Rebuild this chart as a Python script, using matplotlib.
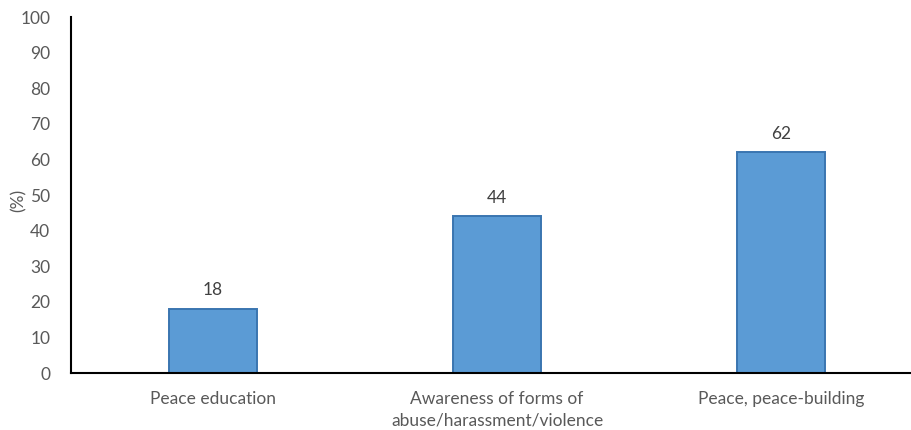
import matplotlib
matplotlib.use("Agg")
import matplotlib.pyplot as plt

categories = ["Peace education",
              "Awareness of forms of\nabuse/harassment/violence",
              "Peace, peace-building"]
values = [18, 44, 62]
y_ticks = [0, 10, 20, 30, 40, 50, 60, 70, 80, 90, 100]

plt.rcParams['font.family'] = ['Lato', 'DejaVu Sans']

W, H = 912, 430
fig = plt.figure(figsize=(W / 100, H / 100), dpi=100)
ax = fig.add_axes([71 / W, (H - 373) / H, (W - 71) / W, 356 / H])

x = list(range(len(categories)))
bars = ax.bar(x, values, width=0.31, color="#5B9BD5", edgecolor="#3A75B0",
              linewidth=1.4, zorder=2)

for xi, v in zip(x, values):
    ax.text(xi, v + 3, f"{v}", ha="center", va="bottom",
            fontsize=12.5, color="#404040")

ax.set_xlim(-0.5, 2.46)
ax.set_ylim(0, 100)
ax.set_yticks(y_ticks)
ax.set_yticklabels([str(t) for t in y_ticks])
ax.set_xticks(x)
ax.set_xticklabels(categories, linespacing=1.45)
ax.tick_params(axis="both", length=0, labelsize=12.5, labelcolor="#595959")
ax.tick_params(axis="y", pad=15)
ax.tick_params(axis="x", pad=13)

for s in ["top", "right"]:
    ax.spines[s].set_visible(False)
for s in ["left", "bottom"]:
    ax.spines[s].set_color("black")
    ax.spines[s].set_linewidth(1.5)

# axis title placed beside the "50" tick
fig.text(19 / W, (H - 200) / H, "(%)", rotation=90, ha="center", va="center",
         fontsize=12.5, color="#595959")

fig.savefig("out.png", dpi=100)
